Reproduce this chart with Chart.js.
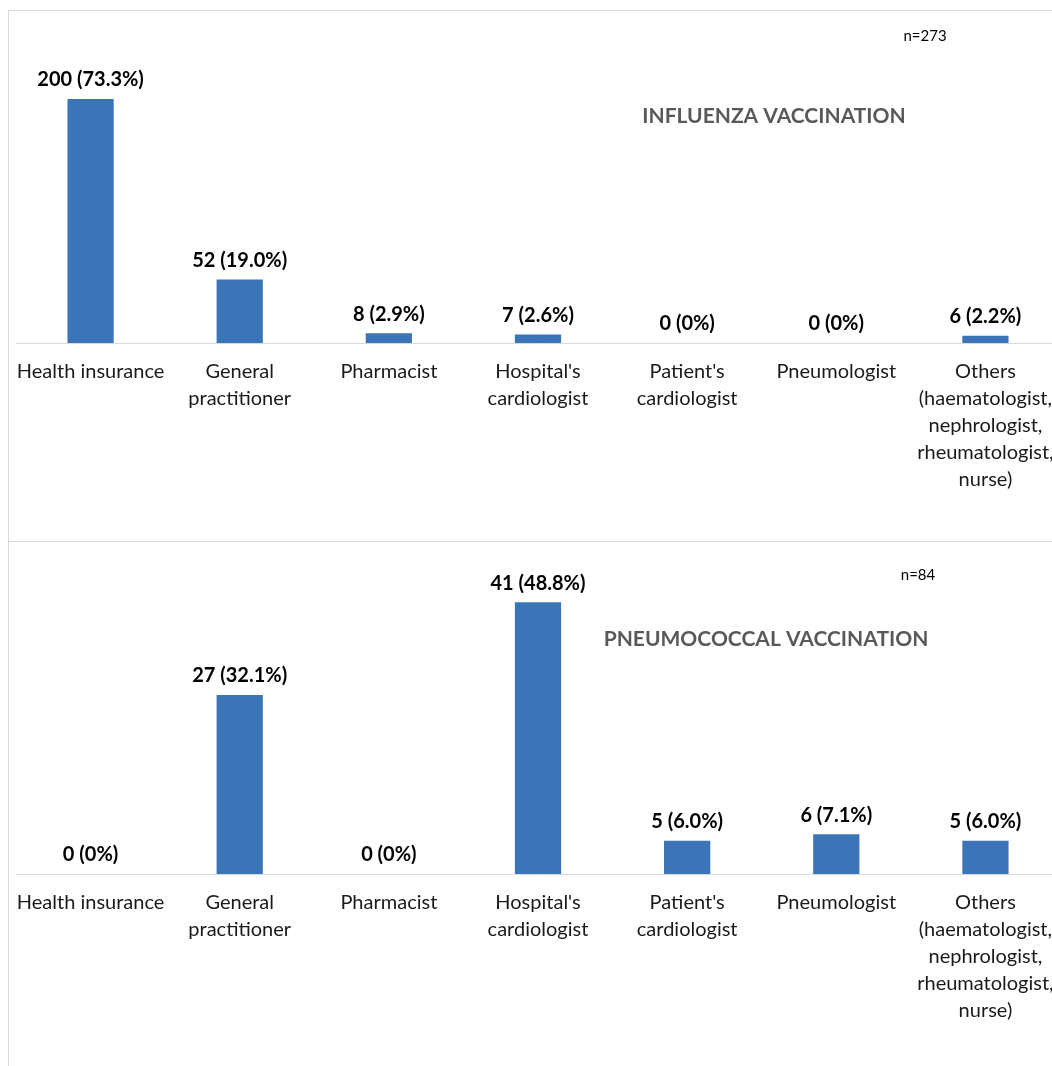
<!DOCTYPE html>
<html>
<head>
<meta charset="utf-8">
<script src="https://cdn.jsdelivr.net/npm/chart.js@4/dist/chart.umd.min.js"></script>
<style>
  html, body { margin: 0; padding: 0; background: #fff; overflow: hidden; }
  #wrap { position: absolute; left: 8px; top: 10px; width: 1100px; }
  .panel { position: relative; width: 1100px; height: 530px; border-left: 1px solid #d9d9d9; border-top: 1px solid #d9d9d9; }
  .panel canvas { position: absolute; left: 0; top: 0; }
</style>
</head>
<body>
<div id="wrap">
  <div class="panel"><canvas id="fluChart" width="1060" height="530"></canvas></div>
  <div class="panel"><canvas id="pneuChart" width="1060" height="530"></canvas></div>
</div>
<script>
// categories (same for both panels)
const categories = [
  'Health insurance',
  ['General', 'practitioner'],
  'Pharmacist',
  ["Hospital's", 'cardiologist'],
  ["Patient's", 'cardiologist'],
  'Pneumologist',
  ['Others', '(haematologist,', 'nephrologist,', 'rheumatologist,', 'nurse)']
];

// influenza vaccination, n=273
const fluValues = [200, 52, 8, 7, 0, 0, 6];
const fluPercents = ['73.3%', '19.0%', '2.9%', '2.6%', '0%', '0%', '2.2%'];

// pneumococcal vaccination, n=84
const pneuValues = [0, 27, 0, 41, 5, 6, 5];
const pneuPercents = ['0%', '32.1%', '0%', '48.8%', '6.0%', '7.1%', '6.0%'];

const BAR_COLOR = '#3b75b7';
const FONT = 'Lato, "Open Sans", sans-serif';

// draws "value (pct)" over the bars + the panel title and n=
const labelsPlugin = {
  id: 'panelText',
  afterDatasetsDraw(chart, args, opts) {
    const ctx = chart.ctx;
    const meta = chart.getDatasetMeta(0);
    ctx.save();
    ctx.fillStyle = '#000';
    ctx.font = 'bold 20px ' + FONT;
    ctx.textAlign = 'center';
    ctx.textBaseline = 'middle';
    meta.data.forEach((bar, i) => {
      const v = chart.data.datasets[0].data[i];
      ctx.fillText(`${v} (${opts.percents[i]})`, bar.x, bar.y - 19);
    });

    ctx.fillStyle = '#595959';
    ctx.font = 'bold 21px ' + FONT;
    ctx.fillText(opts.title, opts.titleX, opts.titleY);

    ctx.fillStyle = '#000';
    ctx.font = '15px ' + FONT;
    ctx.fillText(opts.n, opts.nX, opts.nY);
    ctx.restore();
  }
};

function makeChart(id, values, percents, yMax, text) {
  const ctxt = document.getElementById(id).getContext('2d');
  return new Chart(ctxt, {
    type: 'bar',
    data: {
      labels: categories,
      datasets: [{
        data: values,
        backgroundColor: BAR_COLOR,
        borderWidth: 0,
        barPercentage: 0.31,
        categoryPercentage: 1
      }]
    },
    options: {
      responsive: false,
      animation: false,
      layout: { padding: { top: 27, bottom: 45, left: 7, right: 9 } },
      plugins: {
        legend: { display: false },
        tooltip: { enabled: false },
        panelText: Object.assign({ percents }, text)
      },
      scales: {
        x: {
          grid: { display: false, drawTicks: true, tickLength: 12 },
          border: { display: true, color: '#d9d9d9', width: 1 },
          ticks: {
            color: '#1a1a1a',
            padding: 3,
            maxRotation: 0,
            autoSkip: false,
            font: { family: FONT, size: 20, lineHeight: 1.35 }
          }
        },
        y: { display: false, min: 0, max: yMax }
      }
    },
    plugins: [labelsPlugin]
  });
}

makeChart('fluChart', fluValues, fluPercents, 250, {
  title: 'INFLUENZA VACCINATION', titleX: 765, titleY: 105,
  n: 'n=273', nX: 916, nY: 25
});

makeChart('pneuChart', pneuValues, pneuPercents, 46, {
  title: 'PNEUMOCOCCAL VACCINATION', titleX: 757, titleY: 97,
  n: 'n=84', nX: 909, nY: 33
});
</script>
</body>
</html>
